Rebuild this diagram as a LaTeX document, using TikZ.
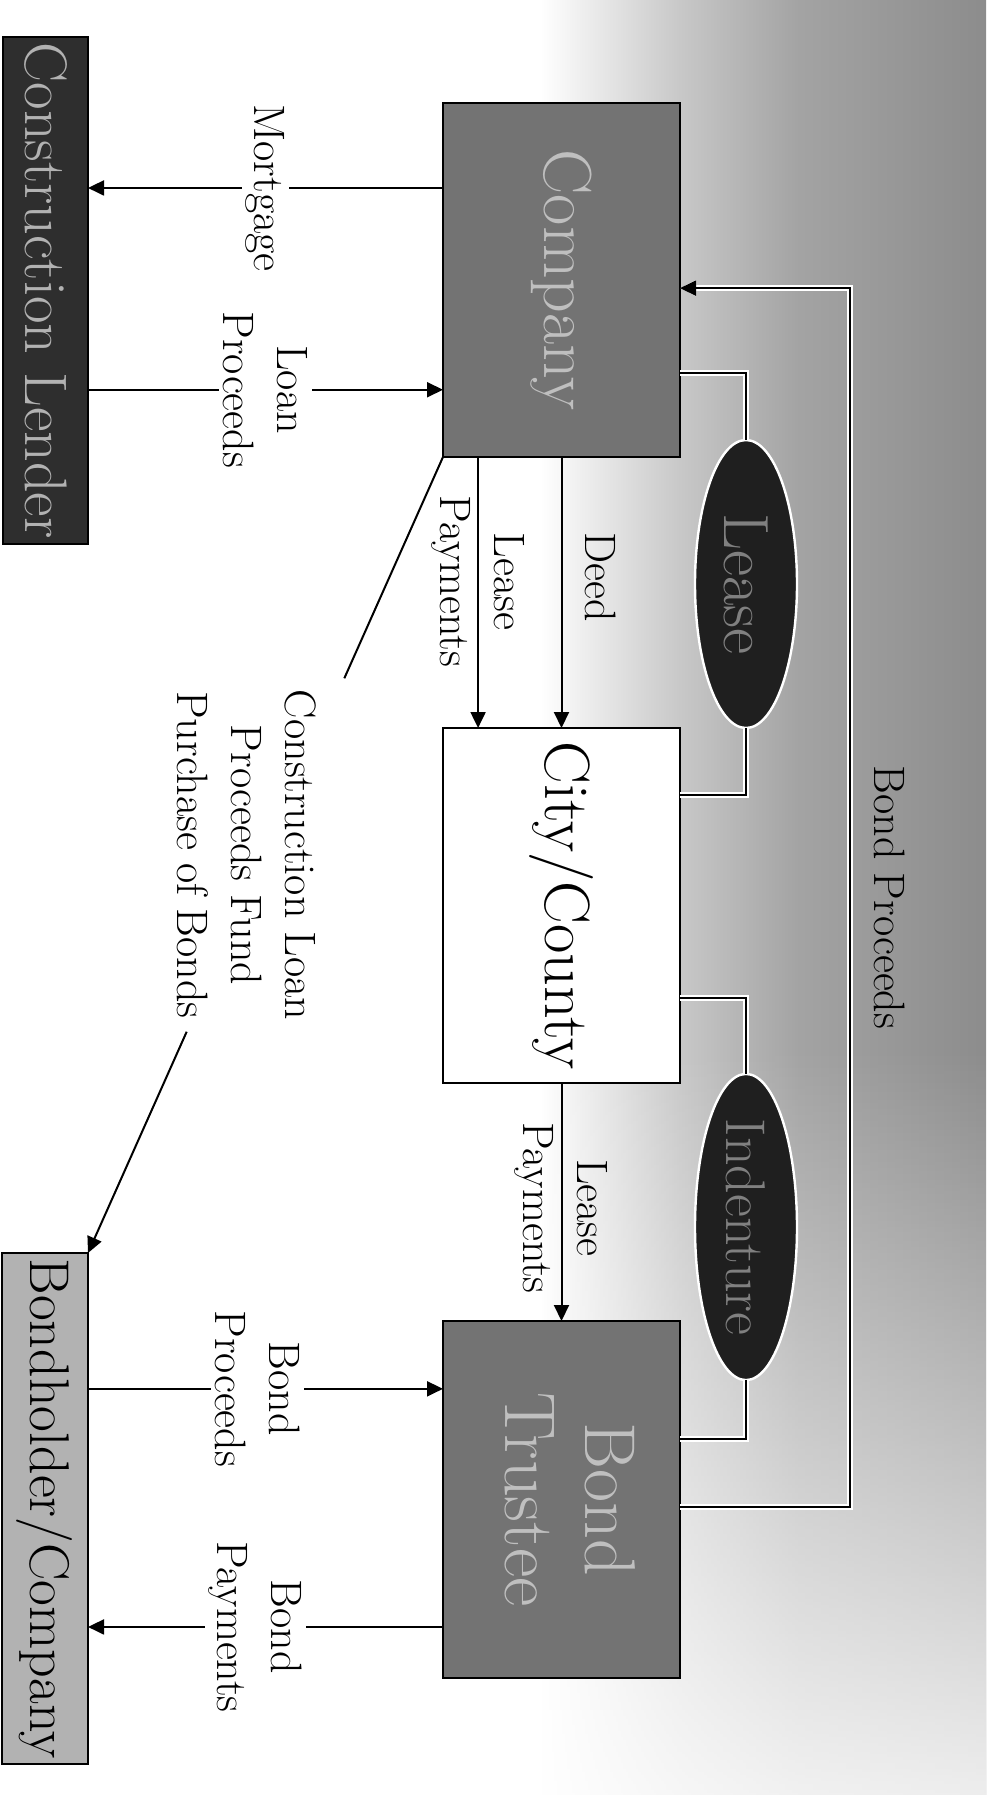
\documentclass[tikz,border=0pt]{standalone}
\usepackage{graphicx}
\usetikzlibrary{shapes.geometric, arrows.meta, calc, fadings}
\pgfdeclarehorizontalshading{bgshade}{100bp}{color(0bp)=(white); color(25bp)=(white); color(41bp)=(black!22); color(54bp)=(black!36); color(75bp)=(black!45); color(100bp)=(black!45)}
\newcommand{\rottext}[1]{\rotatebox{-90}{#1}}
\begin{document}
\begin{tikzpicture}[x=0.5pt, y=-0.5pt,
  box/.style={draw=black, line width=0.8pt, inner sep=0pt, outer sep=0pt},
  oval/.style={ellipse, draw=white, line width=1.2pt, fill=black!88, inner sep=0pt, outer sep=0pt, text=black!50},
  arr/.style={draw=black, line width=1pt, -{Triangle[length=8pt,width=7.5pt]}},
  lbl/.style={rotate=-90, align=center, font=\fontsize{22}{27}\selectfont, inner sep=2pt},
  halo/.style={draw=black, line width=1pt, preaction={draw=white, line width=3pt}},
]
\useasboundingbox (0,0) rectangle (986,1795);
\fill[white] (0,0) rectangle (986,1795);
\shade[shading=bgshade] (540,0) rectangle (986,1795);
\fill[white, path fading=north, fill opacity=0.85] (540,1050) rectangle (986,1795);

% boxes
\node[box, fill=black!82, text=black!30, minimum width=42.5pt, minimum height=253.5pt, font=\fontsize{30}{36}\selectfont] (lender) at (45.5,290.5) {\rottext{Construction Lender}};
\node[box, fill=black!55, text=black!25, minimum width=118.5pt, minimum height=177pt, font=\fontsize{34}{40}\selectfont] (comp) at (561.5,280) {\rottext{Company}};
\node[box, fill=white, text=black, minimum width=118.5pt, minimum height=177.5pt, font=\fontsize{32}{40}\selectfont] (city) at (561.5,905.5) {\rottext{City/County}};
\node[box, fill=black!55, text=black!25, minimum width=118.5pt, minimum height=178.5pt, font=\fontsize{36}{40}\selectfont] (trustee) at (561.5,1499.5) {\rottext{\begin{tabular}{@{}c@{}}Bond\\Trustee\end{tabular}}};
\node[box, fill=black!30, text=black, minimum width=43pt, minimum height=255.5pt, font=\fontsize{28}{34}\selectfont] (holder) at (45,1508.5) {\rottext{Bondholder/Company}};

% ellipses
\node[oval, minimum width=51pt, minimum height=144pt, font=\fontsize{32}{36}\selectfont] (lease) at (746,584) {\rottext{Lease}};
\node[oval, minimum width=51pt, minimum height=145pt, font=\fontsize{28}{32}\selectfont] (ind) at (746,1227) {\rottext{Indenture}};

% anchor points on box sides
\coordinate (m1) at ($(comp.north west)!0.24!(comp.south west)$);
\coordinate (lp0) at ($(comp.north west)!0.81!(comp.south west)$);
\coordinate (lp1) at ($(comp.south west)!0.148!(comp.south east)$);
\coordinate (c0) at ($(comp.north east)!0.523!(comp.south east)$);
\coordinate (c1) at ($(comp.north east)!0.763!(comp.south east)$);
\coordinate (c2) at ($(city.north east)!0.19!(city.south east)$);
\coordinate (c3) at ($(city.north east)!0.76!(city.south east)$);
\coordinate (t0) at ($(trustee.north east)!0.33!(trustee.south east)$);
\coordinate (t1) at ($(trustee.north east)!0.52!(trustee.south east)$);
\coordinate (bp0) at ($(trustee.north west)!0.19!(trustee.south west)$);
\coordinate (bp1) at ($(trustee.north west)!0.857!(trustee.south west)$);
\coordinate (loopx) at (850,0);
\coordinate (cg1) at ($(comp.south west)!0.278!(holder.north east)$);
\coordinate (cg2) at ($(comp.south west)!0.722!(holder.north east)$);

% elbow connectors
\draw[halo] (c1) -| (lease.north);
\draw[halo] (lease.south) |- (c2);
\draw[halo] (c3) -| (ind.north);
\draw[halo] (ind.south) |- (t0);
\draw[halo, -{Triangle[length=8pt,width=7.5pt]}] (t1) -- (t1 -| loopx) -- (c0 -| loopx)
  node[midway, xshift=20pt, lbl] {Bond Proceeds} -- (c0);

% arrows
\draw[arr] (m1) -- (m1 -| lender.east) node[midway, lbl, fill=white] {Mortgage};
\draw[arr] (lp0 -| lender.east) -- (lp0) node[midway, lbl, fill=white] {Loan\\Proceeds};
\draw[arr] (comp.south) -- (city.north) node[midway, xshift=19.5pt, yshift=7.5pt, lbl] {Deed};
\draw[arr] (lp1) -- (lp1 |- city.north) node[midway, yshift=5.5pt, lbl] {Lease\\Payments};
\draw[arr] (city.south) -- (trustee.north) node[midway, yshift=-3pt, lbl] {Lease\\Payments};
\draw[arr] (comp.south west) -- (cg1) (cg2) -- (holder.north east);
\node[xshift=-9.5pt, lbl] (cl) at ($(comp.south west)!0.5!(holder.north east)$) {Construction Loan\\Proceeds Fund\\Purchase of Bonds};
\draw[arr] (bp0 -| holder.east) -- (bp0) node[midway, xshift=-4pt, lbl, fill=white] {Bond\\Proceeds};
\draw[arr] (bp1) -- (bp1 -| holder.east) node[midway, xshift=-5pt, lbl, fill=white] {Bond\\Payments};
\end{tikzpicture}
\end{document}
